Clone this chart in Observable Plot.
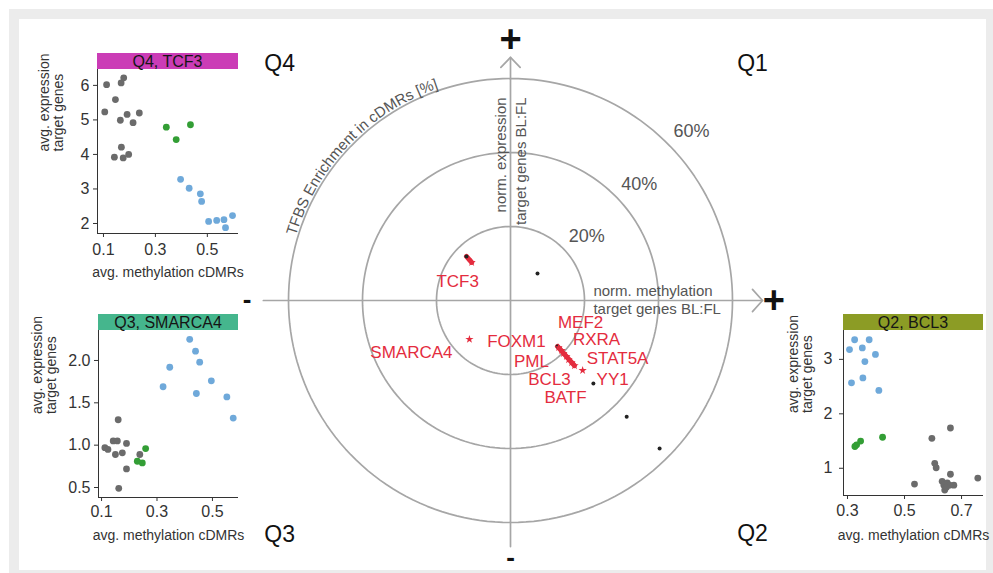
<!DOCTYPE html>
<html><head><meta charset="utf-8">
<script src="https://cdn.jsdelivr.net/npm/d3@7"></script>
<script src="https://cdn.jsdelivr.net/npm/@observablehq/plot@0.6"></script>
<style>
html,body{margin:0;padding:0;background:#fff;}
#page{position:relative;width:993px;height:573px;overflow:hidden;font-family:"Liberation Sans",Arial,sans-serif;}
#frame{position:absolute;left:9px;top:9px;width:984px;height:564px;background:#ececec;}
#inner{position:absolute;left:19px;top:19px;width:967px;height:551px;background:#fff;}
.strip{position:absolute;font-size:16px;color:#151515;text-align:center;font-family:"Liberation Sans",Arial,sans-serif;}
</style></head>
<body><div id="page"><div id="frame"></div><div id="inner"></div></div>
<script>
// ---------- central polar diagram data ----------
const ringLevels = [20, 40, 60];
const ringLabels = ["20%", "40%", "60%"];
const arcTitle = "TFBS Enrichment in cDMRs [%]";
const tfNames = ["TCF3", "SMARCA4", "MEF2", "RXRA", "FOXM1", "PML", "STAT5A", "BCL3", "BATF", "YY1"];
const tfMeth  = [-10.5, -11.1, 13.0, 13.8, 14.3, 15.1, 15.7, 16.5, 17.3, 19.5];
const tfExpr  = [10.3, -10.5, -12.7, -13.5, -14.3, -15.1, -16.0, -16.8, -17.6, -18.9];
const otherMeth = [7.3, 22.4, 31.4, 40.3];
const otherExpr = [7.3, -22.4, -31.4, -40.0];
const trajStartMeth = [-11.9, 12.7];
const trajStartExpr = [11.9, -12.4];
const trajEndMeth = [-10.5, 17.3];
const trajEndExpr = [10.3, -17.6];

// ---------- small panels data ----------
const tcf3Meth  = [0.112,0.146,0.168,0.178,0.105,0.165,0.191,0.214,0.238,0.169,0.142,0.176,0.197, 0.342,0.380,0.435, 0.397,0.430,0.473,0.478,0.505,0.536,0.564,0.597,0.570];
const tcf3Expr  = [6.02,5.59,6.07,6.22,5.23,4.99,5.16,4.92,5.20,4.21,3.92,3.90,4.00, 4.79,4.43,4.86, 3.28,3.02,2.86,2.64,2.06,2.09,2.11,2.23,1.88];
const tcf3Group = ["n","n","n","n","n","n","n","n","n","n","n","n","n","g","g","g","b","b","b","b","b","b","b","b","b"];

const smarcaMeth  = [0.160,0.142,0.157,0.112,0.123,0.150,0.175,0.190,0.190,0.162,0.238, 0.229,0.247,0.259, 0.322,0.346,0.418,0.439,0.454,0.442,0.496,0.552,0.575];
const smarcaExpr  = [1.30,1.05,1.05,0.97,0.95,0.89,0.91,1.02,0.72,0.49,0.89, 0.81,0.79,0.96, 1.69,1.92,2.25,2.11,1.98,1.61,1.76,1.57,1.32];
const smarcaGroup = ["n","n","n","n","n","n","n","n","n","n","n","g","g","g","b","b","b","b","b","b","b","b","b"];

const bcl3Meth  = [0.307,0.325,0.352,0.376,0.361,0.398,0.314,0.354,0.410, 0.326,0.346,0.423,0.332, 0.596,0.661,0.606,0.611,0.535,0.661,0.632,0.638,0.641,0.650,0.658,0.673,0.757,0.647];
const bcl3Expr  = [3.18,3.36,3.21,3.36,2.96,3.09,2.57,2.66,2.43, 1.40,1.50,1.57,1.43, 1.55,1.74,1.09,1.01,0.71,0.89,0.76,0.69,0.60,0.73,0.69,0.69,0.82,0.65];
const bcl3Group = ["b","b","b","b","b","b","b","b","b","g","g","g","g","n","n","n","n","n","n","n","n","n","n","n","n","n","n"];

const tcf3XTicks = [0.1, 0.3, 0.5], tcf3YTicks = [2, 3, 4, 5, 6];
const smarcaXTicks = [0.1, 0.3, 0.5], smarcaYTicks = [0.5, 1.0, 1.5, 2.0];
const bcl3XTicks = [0.3, 0.5, 0.7], bcl3YTicks = [1, 2, 3];

// ---------- layout / style ----------
const FONT = "Liberation Sans, Arial, Helvetica, sans-serif";
const RED = "#e42c3e", GRID = "#a6a6a6", TXT = "#555";
const C = {cx: 510, cy: 300, k: 3.7}; // centre (px) and px per %
const W = 993, H = 573;
const labelOffsets = {TCF3:[-14,19], SMARCA4:[-58,13], MEF2:[22,-25], RXRA:[35,-11], FOXM1:[-47,-12],
  PML:[-35,5], STAT5A:[49,-1], BCL3:[-22,17], BATF:[-9,32], YY1:[30,9]};
const axisExt = {left: -66.8, right: 68.1, top: 65.7, bottom: -66.5};
const signs = [
  {t: "+", x: 0, y: 70.4, s: 38},
  {t: "+", x: 71.2, y: 0, s: 38},
  {t: "-", x: -71.2, y: 0.3, s: 26},
  {t: "-", x: 0, y: -69.6, s: 26}
];
const quadLabels = [
  {t: "Q4", x: -62.4, y: 64.1}, {t: "Q1", x: 65.4, y: 64.1},
  {t: "Q3", x: -62.4, y: -63.2}, {t: "Q2", x: 65.4, y: -63.0}
];

const page = document.getElementById("page");

// ring geometry
const ringPts = ringLevels.flatMap(r => d3.range(0, 361, 2).map(a => ({r, x: r * Math.cos(a * Math.PI / 180), y: r * Math.sin(a * Math.PI / 180)})));
const axisLines = [
  {id: "h", x: axisExt.left, y: 0}, {id: "h", x: axisExt.right, y: 0},
  {id: "v", x: 0, y: axisExt.bottom}, {id: "v", x: 0, y: axisExt.top},
  {id: "ar", x: axisExt.right - 2.7, y: 3}, {id: "ar", x: axisExt.right, y: 0}, {id: "ar", x: axisExt.right - 2.7, y: -3},
  {id: "at", x: -2.6, y: axisExt.top - 2.7}, {id: "at", x: 0, y: axisExt.top}, {id: "at", x: 2.6, y: axisExt.top - 2.7}
];

function arcLabel(index, scales) {
  const sx = scales.x, sy = scales.y;
  const cx = sx(0), cy = sy(0);
  const R = sx(60.4) - cx;
  const a0 = 178 * Math.PI / 180, a1 = 94 * Math.PI / 180;
  const p0 = [cx + R * Math.cos(a0), cy - R * Math.sin(a0)];
  const p1 = [cx + R * Math.cos(a1), cy - R * Math.sin(a1)];
  const g = d3.create("svg:g");
  g.append("path").attr("id", "tfbsArc").attr("fill", "none")
    .attr("d", `M${p0[0]},${p0[1]}A${R},${R} 0 0 1 ${p1[0]},${p1[1]}`);
  g.append("text").attr("fill", TXT).attr("font-size", 15).attr("font-family", FONT)
    .append("textPath").attr("href", "#tfbsArc").attr("startOffset", "50%").attr("text-anchor", "middle")
    .text(arcTitle);
  return g.node();
}

const main = Plot.plot({
  width: W, height: H, margin: 0,
  x: {domain: [-C.cx / C.k, (W - C.cx) / C.k], axis: null},
  y: {domain: [-(H - C.cy) / C.k, C.cy / C.k], axis: null},
  style: {fontFamily: FONT, background: "transparent", overflow: "visible"},
  marks: [
    Plot.line(ringPts, {x: "x", y: "y", z: "r", stroke: GRID, strokeWidth: 1.7}),
    Plot.line(axisLines, {x: "x", y: "y", z: "id", stroke: GRID, strokeWidth: 1.7}),
    arcLabel,
    Plot.text(ringLevels, {x: r => r * Math.SQRT1_2, y: r => r * Math.SQRT1_2, text: (r, i) => ringLabels[i], dx: 24, dy: -12, fontSize: 18, fill: TXT}),
    Plot.text(["norm. methylation"], {x: 22.4, y: 0, textAnchor: "start", fontSize: 15, fill: TXT, dy: -9}),
    Plot.text(["target genes BL:FL"], {x: 22.4, y: 0, textAnchor: "start", fontSize: 15, fill: TXT, dy: 9}),
    Plot.text(["norm. expression"], {x: 0, y: 54.9, rotate: -90, textAnchor: "end", fontSize: 15, fill: TXT, dx: -9}),
    Plot.text(["target genes BL:FL"], {x: 0, y: 54.9, rotate: -90, textAnchor: "end", fontSize: 15, fill: TXT, dx: 11}),
    Plot.dot(otherMeth, {x: d => d, y: (d, i) => otherExpr[i], r: 2, fill: "#222"}),
    Plot.link(trajStartMeth, {x1: d => d, y1: (d, i) => trajStartExpr[i], x2: (d, i) => trajEndMeth[i], y2: (d, i) => trajEndExpr[i], stroke: RED, strokeWidth: 5, strokeLinecap: "round"}),
    Plot.dot(trajStartMeth, {x: d => d, y: (d, i) => trajStartExpr[i], r: 2, fill: "#222"}),
    Plot.dot(tfNames, {x: (d, i) => tfMeth[i], y: (d, i) => tfExpr[i], r: 2.6, symbol: "star", fill: RED}),
    Plot.text(tfNames, {x: (d, i) => tfMeth[i] + labelOffsets[d][0] / C.k, y: (d, i) => tfExpr[i] - labelOffsets[d][1] / C.k, text: d => d, fill: RED, fontSize: 17}),
    Plot.text(quadLabels, {x: "x", y: "y", text: "t", fontSize: 23, fill: "#111"}),
    Plot.text(signs, {x: "x", y: "y", text: "t", fontSize: d => d.s, fontWeight: "bold", fill: "#111"})
  ]
});
main.style.position = "absolute"; main.style.left = "0px"; main.style.top = "0px";
page.appendChild(main);

// ---------- small panels ----------
const COLORS = {domain: ["n", "g", "b"], range: ["#6b6b6b", "#339e35", "#6fa9da"]};
function panel(cfg) {
  const [l, t, r, b] = cfg.frame;
  const [x0, y0, x1, y1] = cfg.box;
  const data = cfg.meth.map((m, i) => ({m, e: cfg.expr[i], g: cfg.group[i]}));
  const p = Plot.plot({
    width: x1 - x0, height: y1 - y0,
    marginLeft: l - x0, marginRight: x1 - r, marginTop: t - y0, marginBottom: y1 - b,
    style: {fontFamily: FONT, background: "transparent", overflow: "visible", color: "#222"},
    x: {domain: cfg.xDomain},
    y: {domain: cfg.yDomain},
    color: COLORS,
    marks: [
      Plot.axisX(cfg.xTicks, {tickSize: 4, tickPadding: cfg.xPad, fontSize: 16, label: null, color: "#333", tickFormat: cfg.xFormat}),
      Plot.axisY(cfg.yTicks, {tickSize: 4, tickPadding: cfg.yPad, fontSize: 16, label: null, color: "#333", tickFormat: cfg.yFormat}),
      Plot.ruleY([cfg.yDomain[0]], {stroke: "#333", strokeWidth: 1}),
      Plot.ruleX([cfg.xDomain[0]], {stroke: "#333", strokeWidth: 1}),
      Plot.dot(data, {x: "m", y: "e", fill: "g", r: 3.4}),
      Plot.text(["avg. expression\ntarget genes"], {frameAnchor: "left", rotate: -90, dx: cfg.yLabelDx, fontSize: 14, lineHeight: 1, fill: "#333"}),
      Plot.text(["avg. methylation cDMRs"], {frameAnchor: "bottom", dy: cfg.xLabelDy, fontSize: 14, fill: "#333"})
    ]
  });
  p.style.position = "absolute"; p.style.left = x0 + "px"; p.style.top = y0 + "px";
  page.appendChild(p);
  const s = document.createElement("div");
  s.className = "strip";
  s.textContent = cfg.strip;
  Object.assign(s.style, {left: l + "px", top: cfg.stripTop + "px", width: (r - l) + "px", height: (t - cfg.stripTop) + "px", background: cfg.stripColor, lineHeight: (t - cfg.stripTop + 1) + "px"});
  page.appendChild(s);
}

panel({strip: "Q4, TCF3", stripColor: "#cb3cb6", stripTop: 53, frame: [97, 69, 238, 233], box: [20, 45, 255, 295],
  xDomain: [0.077, 0.62], yDomain: [1.71, 6.46], meth: tcf3Meth, expr: tcf3Expr, group: tcf3Group,
  xTicks: tcf3XTicks, yTicks: tcf3YTicks, xFormat: ".1f", yFormat: "d", xPad: 6, yPad: 4, yLabelDx: -46, xLabelDy: 43});
panel({strip: "Q3, SMARCA4", stripColor: "#45b68d", stripTop: 314, frame: [98, 330, 238, 497], box: [20, 305, 255, 560],
  xDomain: [0.089, 0.594], yDomain: [0.382, 2.354], meth: smarcaMeth, expr: smarcaExpr, group: smarcaGroup,
  xTicks: smarcaXTicks, yTicks: smarcaYTicks, xFormat: ".1f", yFormat: ".1f", xPad: 4, yPad: 4, yLabelDx: -54, xLabelDy: 42});
panel({strip: "Q2, BCL3", stripColor: "#8c9c25", stripTop: 314, frame: [843, 330, 983, 495], box: [770, 305, 992, 560],
  xDomain: [0.286, 0.777], yDomain: [0.50, 3.53], meth: bcl3Meth, expr: bcl3Expr, group: bcl3Group,
  xTicks: bcl3XTicks, yTicks: bcl3YTicks, xFormat: ".1f", yFormat: "d", xPad: 5, yPad: 7, yLabelDx: -43, xLabelDy: 44});
</script>
</body></html>
